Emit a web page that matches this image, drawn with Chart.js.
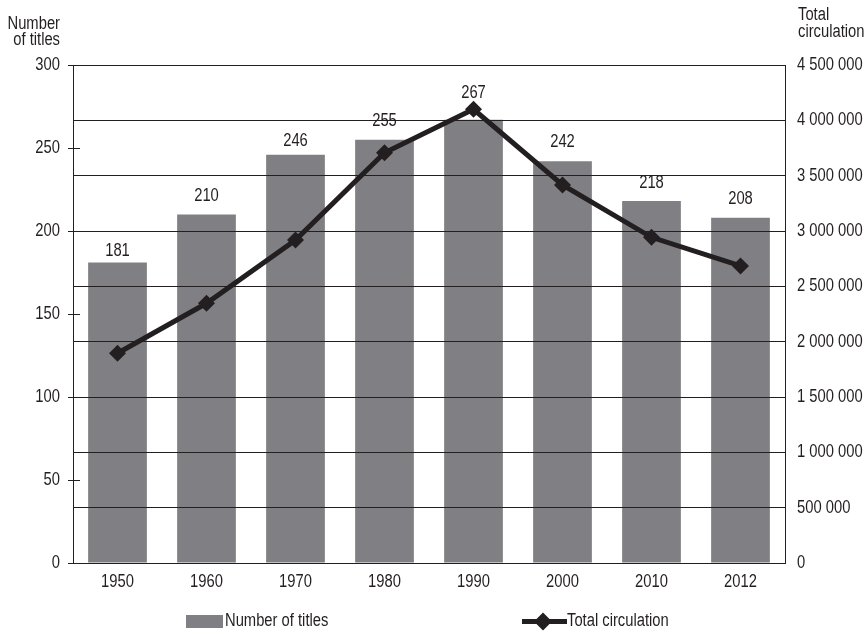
<!DOCTYPE html>
<html>
<head>
<meta charset="utf-8">
<script src="https://cdn.jsdelivr.net/npm/chart.js@4/dist/chart.umd.min.js"></script>
<style>
  html, body { margin: 0; padding: 0; background: #ffffff; }
  canvas { display: block; }
</style>
</head>
<body>
<canvas id="chart" width="866" height="631"></canvas>
<script>
// Newspaper titles and their total circulation, by year
const years = ['1950', '1960', '1970', '1980', '1990', '2000', '2010', '2012'];
const titleCounts = [181, 210, 246, 255, 267, 242, 218, 208];
const circulation = [1895000, 2347000, 2919000, 3707000, 4100000, 3416000, 2943000, 2684000];

// Axis tick values
const titleTicks = [0, 50, 100, 150, 200, 250, 300];
const circulationTicks = [0, 500000, 1000000, 1500000, 2000000, 2500000, 3000000, 3500000, 4000000, 4500000];

// How far (px) each count label sits above its bar, so it clears the line
const labelLift = [12, 18, 14, 19, 27, 19, 18, 19];

const FONT = "'Liberation Sans', Arial, sans-serif";
const NARROW = 0.82;          // horizontal squeeze that gives a condensed face
const TEXT = '#231f20';
const LINE = '#231f20';
const BAR = '#808084';

function spaced(v) {
  return String(v).replace(/\B(?=(\d{3})+(?!\d))/g, ' ');
}

// Every string on this canvas is set condensed: fillText gets a maxWidth
// equal to a fraction of its natural width.
const canvas = document.getElementById('chart');
const context = canvas.getContext('2d');
const nativeFillText = context.fillText.bind(context);
context.fillText = function (text, x, y, maxWidth) {
  const w = this.measureText(text).width * NARROW;
  nativeFillText(text, x, y, maxWidth === undefined ? w : Math.min(w, maxWidth));
};

// Count labels above each bar
const barLabels = {
  id: 'barLabels',
  afterDraw(chart) {
    const ctx = chart.ctx;
    const meta = chart.getDatasetMeta(0);
    ctx.save();
    ctx.font = '18px ' + FONT;
    ctx.fillStyle = TEXT;
    ctx.textAlign = 'center';
    ctx.textBaseline = 'middle';
    meta.data.forEach((bar, i) => {
      ctx.fillText(String(titleCounts[i]), bar.x, bar.y - labelLift[i]);
    });
    ctx.restore();
  }
};

// Inner half of the left-axis tick marks
const innerTicks = {
  id: 'innerTicks',
  afterDraw(chart) {
    const ctx = chart.ctx;
    const y = chart.scales.y;
    const left = chart.chartArea.left;
    ctx.save();
    ctx.strokeStyle = LINE;
    ctx.lineWidth = 1;
    titleTicks.forEach(v => {
      const py = Math.round(y.getPixelForValue(v)) + 0.5;
      ctx.beginPath();
      ctx.moveTo(left, py);
      ctx.lineTo(left + 7, py);
      ctx.stroke();
    });
    ctx.restore();
  }
};

// Axis headings and legend
const headingsAndLegend = {
  id: 'headingsAndLegend',
  afterDraw(chart) {
    const ctx = chart.ctx;
    ctx.save();
    ctx.font = '18px ' + FONT;
    ctx.fillStyle = TEXT;
    ctx.textBaseline = 'alphabetic';

    ctx.textAlign = 'right';
    ctx.fillText('Number', 60, 29);
    ctx.fillText('of titles', 60, 45);

    ctx.textAlign = 'left';
    ctx.fillText('Total', 798, 20);
    ctx.fillText('circulation', 798, 37);

    // legend: bars
    const ly = 621.5;
    ctx.fillStyle = BAR;
    ctx.fillRect(186, 615, 37, 13);
    ctx.fillStyle = TEXT;
    ctx.textBaseline = 'middle';
    ctx.fillText(chart.data.datasets[0].label, 225, ly);

    // legend: line with diamond marker
    ctx.strokeStyle = LINE;
    ctx.lineWidth = 5;
    ctx.beginPath();
    ctx.moveTo(522, ly);
    ctx.lineTo(567, ly);
    ctx.stroke();
    ctx.fillStyle = LINE;
    ctx.beginPath();
    ctx.moveTo(543, ly - 9);
    ctx.lineTo(552, ly);
    ctx.lineTo(543, ly + 9);
    ctx.lineTo(534, ly);
    ctx.closePath();
    ctx.fill();
    ctx.fillStyle = TEXT;
    ctx.fillText(chart.data.datasets[1].label, 567, ly);
    ctx.restore();
  }
};

new Chart(canvas, {
  data: {
    labels: years,
    datasets: [
      {
        type: 'bar',
        label: 'Number of titles',
        data: titleCounts,
        yAxisID: 'y',
        backgroundColor: BAR,
        borderWidth: 0,
        categoryPercentage: 1,
        barPercentage: 0.66,
        order: 2
      },
      {
        type: 'line',
        label: 'Total circulation',
        data: circulation,
        yAxisID: 'y2',
        borderColor: LINE,
        backgroundColor: LINE,
        borderWidth: 5,
        pointStyle: 'rectRot',
        pointRadius: 8.5,
        pointBorderWidth: 0,
        pointBackgroundColor: LINE,
        tension: 0,
        order: 1
      }
    ]
  },
  options: {
    responsive: false,
    animation: false,
    devicePixelRatio: 1,
    layout: { padding: { left: 0, right: 0, top: 65, bottom: 38 } },
    plugins: {
      legend: { display: false },
      tooltip: { enabled: false },
      title: { display: false }
    },
    scales: {
      x: {
        type: 'category',
        grid: { display: false },
        border: { display: true, color: LINE, width: 1 },
        ticks: {
          color: TEXT,
          font: { family: FONT, size: 18 },
          padding: 0,
          maxRotation: 0
        },
        afterFit(scale) { scale.height = 30; }
      },
      y: {
        position: 'left',
        min: 0,
        max: 300,
        afterBuildTicks(scale) { scale.ticks = titleTicks.map(v => ({ value: v })); },
        grid: { drawOnChartArea: false, drawTicks: true, tickLength: 5, color: LINE },
        border: { display: true, color: LINE, width: 1 },
        ticks: {
          color: TEXT,
          font: { family: FONT, size: 18 },
          padding: 8
        },
        afterFit(scale) { scale.width = 73; }
      },
      y2: {
        position: 'right',
        min: 0,
        max: 4500000,
        afterBuildTicks(scale) { scale.ticks = circulationTicks.map(v => ({ value: v })); },
        // grid sits above the bars; the border shares its layer so it is placed after the grid
        grid: { drawOnChartArea: true, drawTicks: false, color: LINE, lineWidth: 1, z: 1 },
        border: { display: true, color: LINE, width: 1, z: 1 },
        ticks: {
          color: TEXT,
          font: { family: FONT, size: 18 },
          padding: 12,
          callback: v => spaced(v)
        },
        afterFit(scale) { scale.width = 81; }
      }
    }
  },
  plugins: [innerTicks, barLabels, headingsAndLegend]
});
</script>
</body>
</html>
